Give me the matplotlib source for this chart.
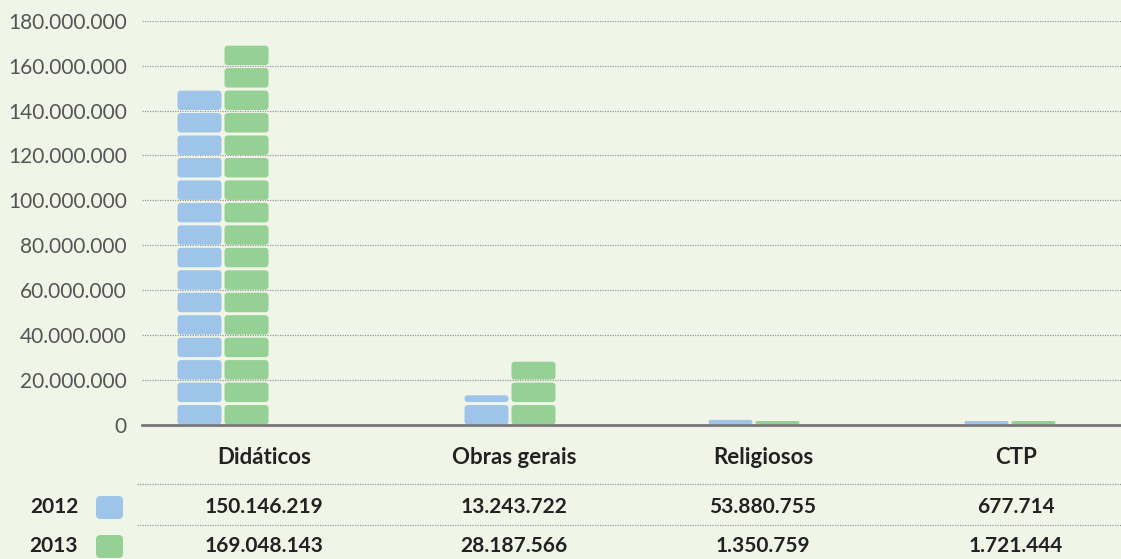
import numpy as np
import matplotlib.pyplot as plt
from matplotlib.patches import FancyBboxPatch

categories = ["Didáticos", "Obras gerais", "Religiosos", "CTP"]
years = ["2012", "2013"]
# bar heights as drawn (Religiosos 2012 bar is drawn small, unlike its printed figure)
values_2012 = [150146219, 13243722, 2300000, 677714]
values_2013 = [169048143, 28187566, 1350759, 1721444]
# figures printed in the table under the chart
labels_2012 = ["150.146.219", "13.243.722", "53.880.755", "677.714"]
labels_2013 = ["169.048.143", "28.187.566", "1.350.759", "1.721.444"]
yticks = np.arange(0, 180000001, 20000000)

W, H = 1121, 559
bg = "#f0f5e8"
blue = "#9fc4e9"
green = "#95d095"
plt.rcParams['font.family'] = ['Lato', 'DejaVu Sans']

fig = plt.figure(figsize=(W / 100, H / 100), dpi=100)
fig.patch.set_facecolor(bg)
ax = fig.add_axes([142 / W, (H - 425) / H, 979 / W, 404.3 / H])
ax.set_facecolor(bg)
ax.set_xlim(0, 979)
ax.set_ylim(0, 180e6)

px_y = 180e6 / 404.3   # data units per pixel, vertical
block = 10e6
bar_w = 44
centers = [81, 368, 612, 868]
offset = 23.5


def draw_stack(xc, value, color):
    n = int(np.ceil(value / block))
    for k in range(n):
        # a tiny leftover on top of full blocks is not drawn
        if k > 0 and value - k * block < 0.5e6:
            break
        y0 = k * block + 0.5 * px_y
        top = min((k + 1) * block - 2.5 * px_y, value)
        h = max(top - y0, 3.5 * px_y)
        r = min(3.5, h / px_y / 2)
        p = FancyBboxPatch((xc - bar_w / 2, y0), bar_w, h,
                           boxstyle="round,pad=0,rounding_size=%f" % r,
                           mutation_aspect=px_y, fc=color, ec="none",
                           zorder=3)
        ax.add_patch(p)


for i in range(len(categories)):
    draw_stack(centers[i] - offset, values_2012[i], blue)
    draw_stack(centers[i] + offset, values_2013[i], green)

ax.set_yticks(yticks)
ax.set_yticklabels([f"{v:,}".replace(",", ".") for v in yticks],
                   fontsize=15, color="#555555")
ax.tick_params(axis="y", length=0, pad=11)
ax.set_xticks([])
for s in ["top", "right", "left"]:
    ax.spines[s].set_visible(False)
ax.spines["bottom"].set_color("#777777")
ax.spines["bottom"].set_linewidth(2)
ax.spines["bottom"].set_zorder(4)
for v in yticks[1:]:
    ax.axhline(v, color="#999999", lw=0.9, ls=(0, (1, 1)), zorder=1)

# table under the chart
col_x = [264, 514, 763, 1016]
rows = [(507, years[0], labels_2012, blue), (546, years[1], labels_2013, green)]
for i, c in enumerate(categories):
    fig.text(col_x[i] / W, 1 - 457 / H, c, ha="center", va="center",
             fontsize=16, fontweight="bold", color="#222222")
for ly in [484, 525]:
    fig.add_artist(plt.Line2D([137 / W, 1], [1 - ly / H, 1 - ly / H],
                              color="#999999", lw=0.9, ls=(0, (1, 1))))
for ry, yr, labs, col in rows:
    fig.text(54 / W, 1 - ry / H, yr, ha="center", va="center",
             fontsize=15, fontweight="bold", color="#222222")
    sq = FancyBboxPatch((96 / W, 1 - (ry + 12) / H), 27 / W, 23 / H,
                        boxstyle="round,pad=0,rounding_size=0.004",
                        mutation_aspect=W / H, transform=fig.transFigure,
                        fc=col, ec="none")
    fig.add_artist(sq)
    for i, t in enumerate(labs):
        fig.text(col_x[i] / W, 1 - ry / H, t, ha="center", va="center",
                 fontsize=15, fontweight="bold", color="#222222")

fig.savefig("out.png", dpi=100, facecolor=bg)
